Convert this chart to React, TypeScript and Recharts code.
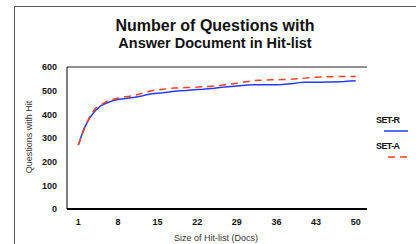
import { LineChart, Line, XAxis, YAxis, CartesianGrid } from "recharts";

const docs = Array.from({ length: 50 }, (_, i) => i + 1);

const setR = [
  270, 340, 385, 415, 437, 448, 457, 463, 466, 469,
  472, 476, 483, 487, 489, 491, 494, 498, 500, 501,
  503, 505, 506, 508, 510, 513, 516, 518, 520, 522,
  524, 525, 525, 525, 525, 525, 526, 528, 530, 534,
  536, 536, 536, 536, 537, 537, 538, 539, 541, 542,
];

const setA = [
  270, 335, 390, 425, 440, 455, 463, 468, 473, 476,
  481, 487, 494, 500, 503, 506, 509, 511, 512, 513,
  514, 515, 517, 518, 520, 522, 525, 528, 531, 535,
  539, 543, 544, 545, 546, 546, 547, 548, 549, 551,
  553, 555, 557, 558, 559, 559, 560, 560, 560, 560,
];

const xTicks = [1, 8, 15, 22, 29, 36, 43, 50];
const yTicks = [0, 100, 200, 300, 400, 500, 600];

const data = docs.map((d, i) => ({ docs: d, setR: setR[i], setA: setA[i] }));

const font = "'Liberation Sans', Arial, sans-serif";

const LegendBox = () => (
  <div style={{ position: "absolute", left: 376, top: 114, width: 40, fontFamily: font, fontSize: 9, fontWeight: 700, color: "#111", letterSpacing: -0.6 }}>
    <div style={{ height: 12, lineHeight: "12px" }}>SET-R</div>
    <svg width={34} height={10} style={{ display: "block" }}>
      <line x1={8} y1={5} x2={32} y2={5} stroke="#1f3dff" strokeWidth={1.5} />
    </svg>
    <div style={{ height: 12, lineHeight: "12px", marginTop: 4 }}>SET-A</div>
    <svg width={34} height={10} style={{ display: "block" }}>
      <line x1={12} y1={5} x2={32} y2={5} stroke="#ff4020" strokeWidth={1.5} strokeDasharray="7 5" />
    </svg>
  </div>
);

export default function App() {
  return (
    <div style={{ position: "absolute", left: 0, top: 0, width: 416, height: 244, background: "#fff", overflow: "hidden", fontFamily: font }}>
      <div style={{ position: "absolute", left: 14, top: 6, width: 420, height: 260, border: "1px solid #555", boxSizing: "border-box" }} />
      <div style={{ position: "absolute", left: 14, width: 402, top: 16, textAlign: "center", fontWeight: 700, fontSize: 16, color: "#111", lineHeight: "19px" }}>
        Number of Questions with
      </div>
      <div style={{ position: "absolute", left: 14, width: 402, top: 35, textAlign: "center", fontWeight: 700, fontSize: 14.5, color: "#111", lineHeight: "17px" }}>
        Answer Document in Hit-list
      </div>
      <div style={{ position: "absolute", left: 66, width: 300, top: 233, textAlign: "center", fontSize: 9, color: "#333", lineHeight: "11px" }}>
        Size of Hit-list (Docs)
      </div>
      <div style={{ position: "absolute", left: 29, top: 137, width: 0, height: 0 }}>
        <div style={{ position: "absolute", transform: "translate(-50%, -50%) rotate(-90deg)", whiteSpace: "nowrap", fontSize: 9, color: "#333", lineHeight: "11px" }}>
          Questions with Hit
        </div>
      </div>
      <LegendBox />
      <div style={{ position: "absolute", left: 0, top: 0 }}>
        <LineChart width={416} height={244} data={data} margin={{ top: 67, right: 49, bottom: 15, left: 27 }}>
          <CartesianGrid vertical={false} stroke="#222" strokeWidth={1} />
          <XAxis
            dataKey="docs"
            type="number"
            domain={[-1, 52]}
            ticks={xTicks}
            interval={0}
            height={20}
            tickLine={false}
            axisLine={{ stroke: "#000", strokeWidth: 2 }}
            tick={{ fill: "#111", fontSize: 9, fontWeight: 700, fontFamily: font }}
            tickMargin={4}
          />
          <YAxis
            yAxisId="left"
            domain={[0, 600]}
            ticks={yTicks}
            width={40}
            tickLine={false}
            axisLine={{ stroke: "#000", strokeWidth: 1 }}
            tick={{ fill: "#111", fontSize: 9, fontWeight: 700, fontFamily: font }}
            tickMargin={4}
          />
          <YAxis
            yAxisId="right"
            orientation="right"
            domain={[0, 600]}
            width={0}
            tick={false}
            tickLine={false}
            axisLine={{ stroke: "#8a8a8a", strokeWidth: 2 }}
          />
          <Line yAxisId="left" dataKey="setR" name="SET-R" stroke="#1f3dff" strokeWidth={1.5} dot={false} isAnimationActive={false} />
          <Line yAxisId="left" dataKey="setA" name="SET-A" stroke="#ff4020" strokeWidth={1.5} strokeDasharray="7 5" dot={false} isAnimationActive={false} />
        </LineChart>
      </div>
    </div>
  );
}
